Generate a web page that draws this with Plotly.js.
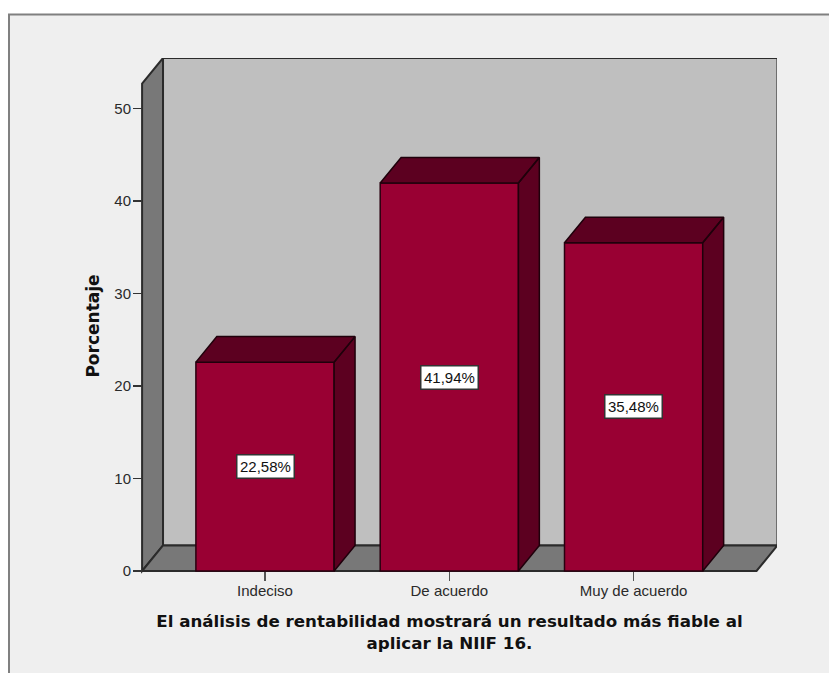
<!DOCTYPE html>
<html>
<head>
<meta charset="utf-8">
<script src="https://cdn.plot.ly/plotly-3.0.1.min.js"></script>
<style>html,body{margin:0;padding:0;background:#fff;overflow:hidden}</style>
</head>
<body>
<div id="chart" style="width:829px;height:673px"></div>
<script>
// Respuestas a la pregunta sobre la NIIF 16
const categories = ["Indeciso", "De acuerdo", "Muy de acuerdo"];
const percentages = [22.58, 41.94, 35.48];
const yTicks = [0, 10, 20, 30, 40, 50];

// Pseudo-3D box, expressed in axis units
const FLOOR_X0 = -0.667, FLOOR_X1 = 2.667, WALL_TOP = 52.7;
const DEPTH_X = 0.1135, DEPTH_Y = 2.76, BAR_WIDTH = 0.75;
const PX_PER_UNIT = 9.25;

const W = 829, H = 673;
const M = {l: 122, r: 52, t: 58, b: 79};
const ZERO_PX = 571;
const X_RANGE = [-0.776, 2.778];
const Y_RANGE = [-(H - M.b - ZERO_PX) / PX_PER_UNIT, (ZERO_PX - M.t) / PX_PER_UNIT];
const INK = "#2b2b2b";
const TICK_FONT = {family: "Liberation Sans, Arial, sans-serif", size: 15, color: "#2a2a2a"};
const TITLE_FAMILY = "DejaVu Sans, Verdana, sans-serif";

const path = pts => "M" + pts.map(p => p.join(",")).join("L") + "Z";
const wall = (pts, color) => ({
  type: "path", xref: "x", yref: "y", layer: "below", path: path(pts),
  fillcolor: color, line: {color: INK, width: 2}
});
const paperX = px => (px - M.l) / (W - M.l - M.r);
const paperY = py => (H - M.b - py) / (H - M.t - M.b);

const shapes = [
  // chart frame, open towards the page edge
  {type: "rect", xref: "paper", yref: "paper", layer: "below",
   x0: paperX(9), x1: paperX(W + 20), y0: paperY(H + 20), y1: paperY(14.5),
   fillcolor: "#efefef", line: {color: "#808080", width: 2}},
  wall([[FLOOR_X0 + DEPTH_X, DEPTH_Y], [FLOOR_X1 + DEPTH_X, DEPTH_Y],
        [FLOOR_X1 + DEPTH_X, WALL_TOP + DEPTH_Y], [FLOOR_X0 + DEPTH_X, WALL_TOP + DEPTH_Y]], "#bfbfbf"),
  wall([[FLOOR_X0, 0], [FLOOR_X0 + DEPTH_X, DEPTH_Y],
        [FLOOR_X0 + DEPTH_X, WALL_TOP + DEPTH_Y], [FLOOR_X0, WALL_TOP]], "#787878"),
  wall([[FLOOR_X0, 0], [FLOOR_X1, 0], [FLOOR_X1 + DEPTH_X, DEPTH_Y], [FLOOR_X0 + DEPTH_X, DEPTH_Y]], "#787878")
];

// Top and side faces of each bar, separated by gaps
const sideX = [], sideY = [];
percentages.forEach((v, i) => {
  const a = i - BAR_WIDTH / 2, b = i + BAR_WIDTH / 2;
  sideX.push(a, b, b + DEPTH_X, a + DEPTH_X, a, null);
  sideY.push(v, v, v + DEPTH_Y, v + DEPTH_Y, v, null);
  sideX.push(b, b + DEPTH_X, b + DEPTH_X, b, b, null);
  sideY.push(v, v + DEPTH_Y, DEPTH_Y, 0, v, null);
});

const traces = [
  {type: "bar", x: [0, 1, 2], y: percentages, width: BAR_WIDTH,
   marker: {color: "#990033", line: {color: "#2a0010", width: 1.5}},
   hoverinfo: "skip"},
  {type: "scatter", mode: "lines", x: sideX, y: sideY, fill: "toself",
   fillcolor: "#5c0020", line: {color: "#1f000b", width: 1.5},
   hoverinfo: "skip", showlegend: false}
];

const annotations = percentages.map((v, i) => ({
  x: i, y: v / 2, xref: "x", yref: "y", showarrow: false,
  text: v.toFixed(2).replace(".", ",") + "%",
  font: {family: TICK_FONT.family, size: 15, color: "#111"},
  bgcolor: "#ffffff", bordercolor: "#333333", borderwidth: 1.5, borderpad: 2.5
}));

const layout = {
  width: W, height: H, autosize: false, margin: M, showlegend: false,
  paper_bgcolor: "#ffffff", plot_bgcolor: "rgba(0,0,0,0)",
  bargap: 0.25,
  shapes, annotations,
  font: {family: TICK_FONT.family, color: "#222"},
  xaxis: {
    range: X_RANGE, tickmode: "array", tickvals: [0, 1, 2], ticktext: categories,
    anchor: "free", position: (H - M.b - ZERO_PX) / (H - M.t - M.b),
    ticks: "outside", ticklen: 9, tickwidth: 1.5, tickcolor: "#555",
    ticklabelstandoff: -3, tickfont: TICK_FONT,
    showgrid: false, zeroline: false, showline: false,
    title: {text: "<b>El análisis de rentabilidad mostrará un resultado más fiable al<br>aplicar la NIIF 16.</b>",
            font: {family: TITLE_FAMILY, size: 16.7, color: "#111"}, standoff: 17}
  },
  yaxis: {
    range: Y_RANGE, tickmode: "array", tickvals: yTicks,
    anchor: "free", position: (142 - M.l) / (W - M.l - M.r),
    ticks: "outside", ticklen: 9, tickwidth: 1.5, tickcolor: "#333",
    ticklabelstandoff: -1, tickfont: TICK_FONT,
    showgrid: false, zeroline: false, showline: false,
    title: {text: "<b>Porcentaje</b>", font: {family: TITLE_FAMILY, size: 17, color: "#111"}, standoff: 9}
  }
};

Plotly.newPlot("chart", traces, layout, {displayModeBar: false, staticPlot: true});
</script>
</body>
</html>
